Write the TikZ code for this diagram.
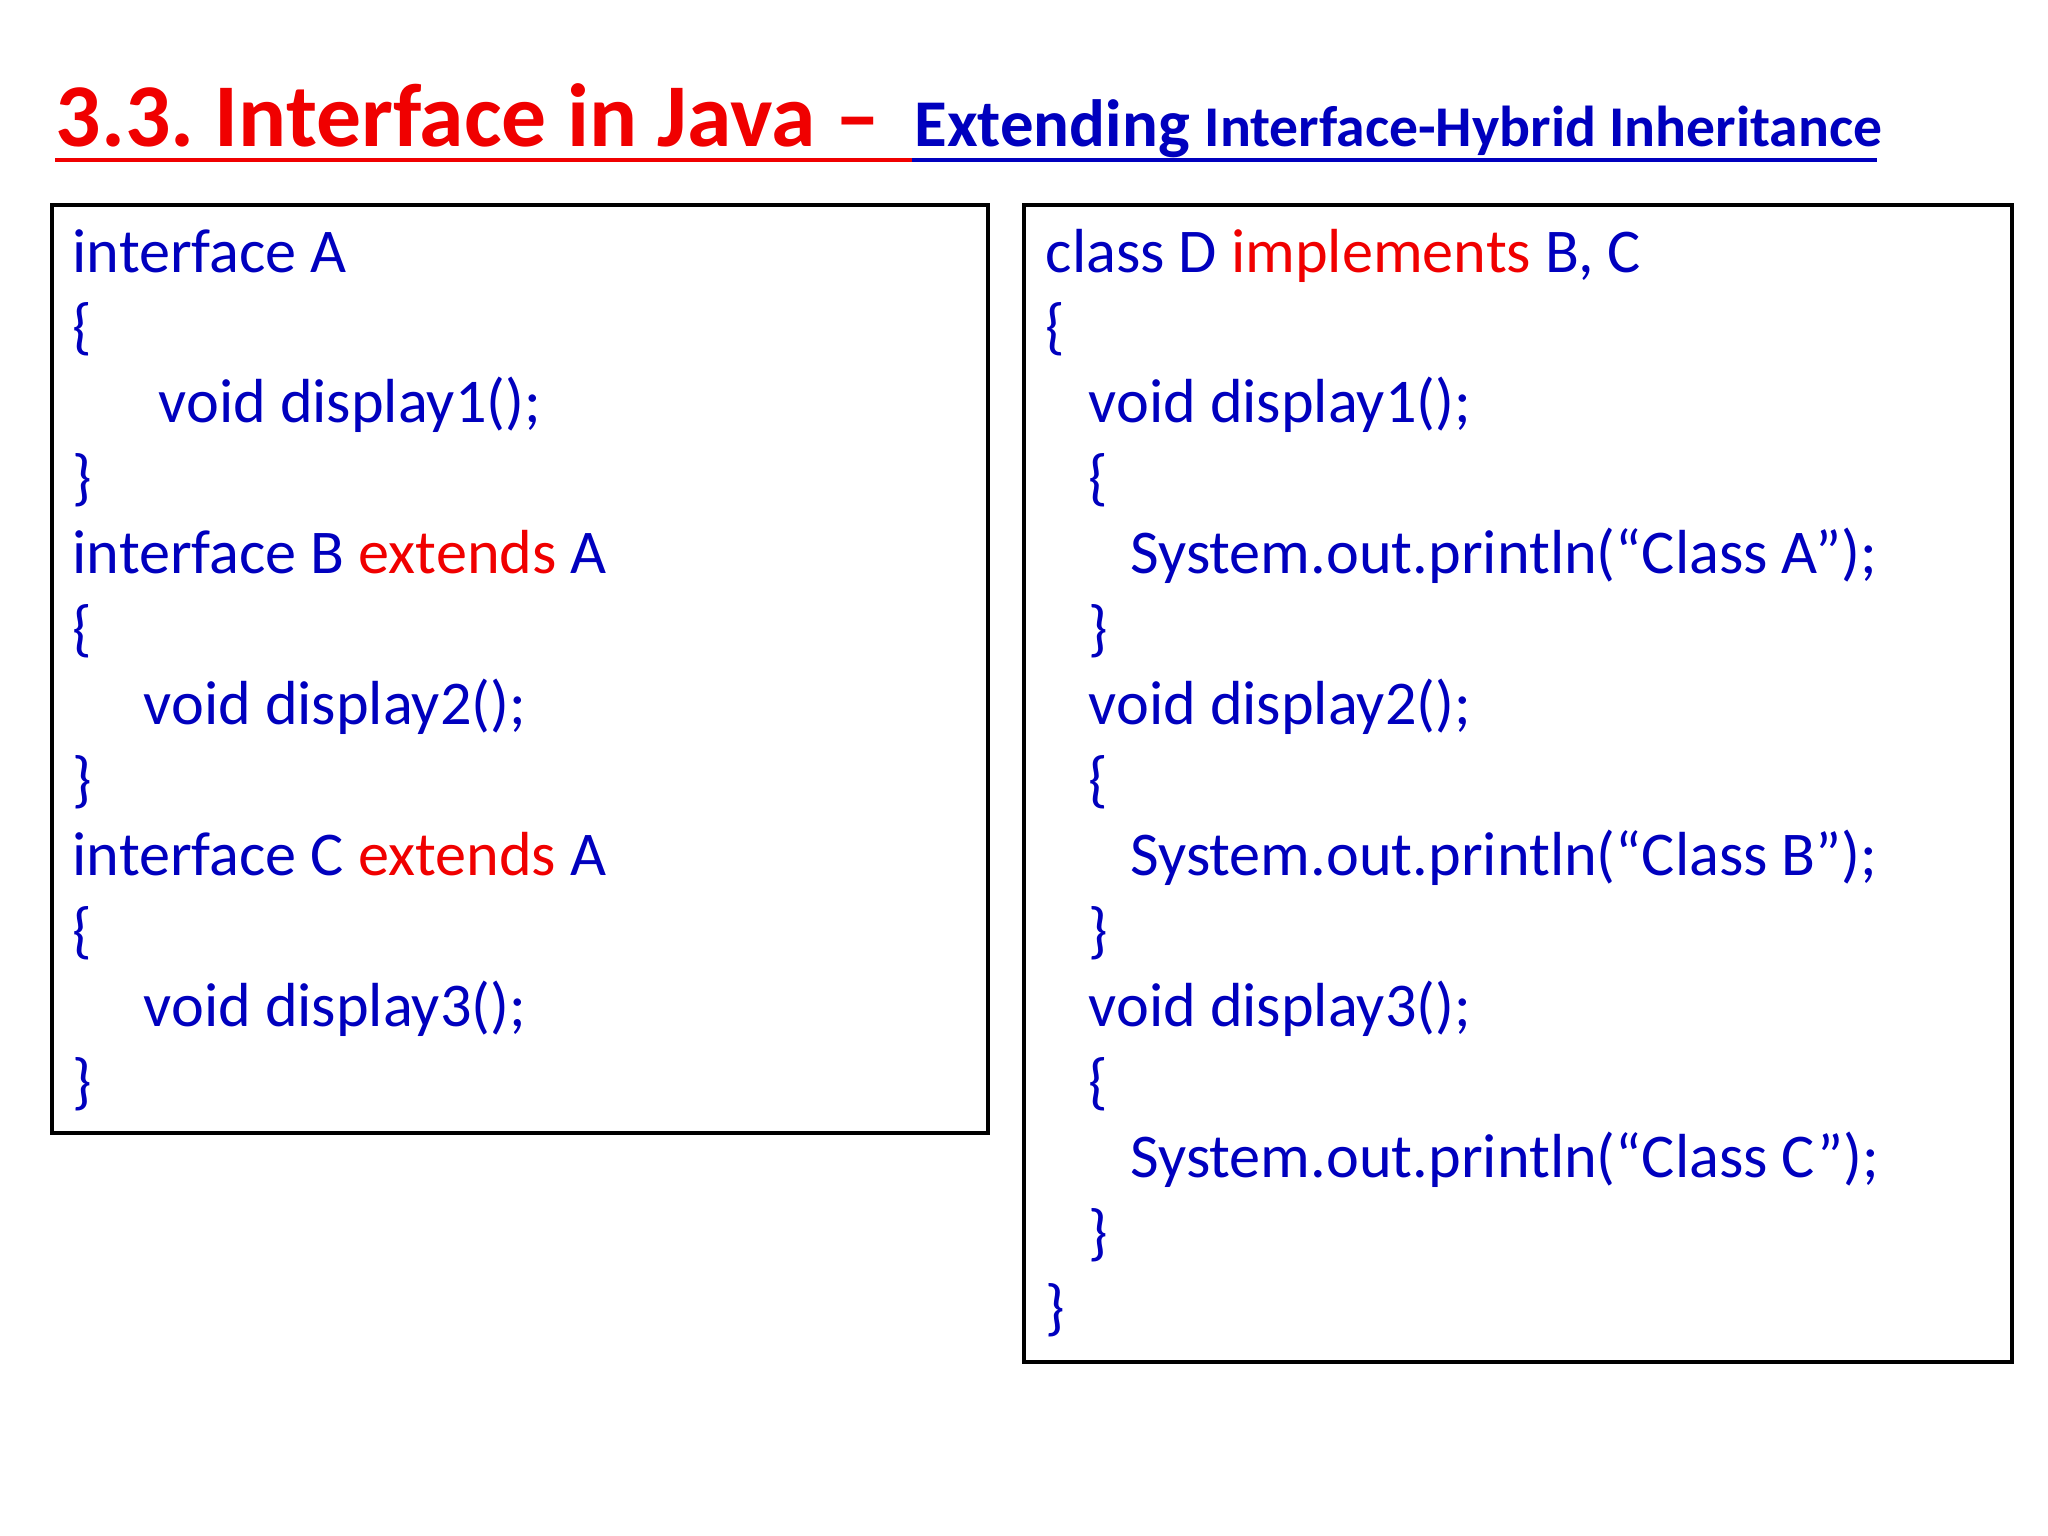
\documentclass[tikz,border=0pt]{standalone}
\usepackage{fontspec}
\setmainfont{Carlito}
\frenchspacing
\definecolor{codeblue}{RGB}{0,0,190}
\definecolor{keyred}{RGB}{240,0,0}
\tikzset{
  code/.style={anchor=base west,inner sep=0pt,text=codeblue,font=\fontsize{17.7}{20}\selectfont},
  codebox/.style={draw=black,line width=1.4pt}
}
\newcommand{\kw}[1]{\textcolor{keyred}{#1}}
\begin{document}
\begin{tikzpicture}[x=0.01cm,y=-0.01cm]
\useasboundingbox (0,0) rectangle (2048,1536);
% title
\node[anchor=base west,inner sep=0pt,text=keyred,font=\fontsize{25.5}{28}\selectfont\bfseries] (title) at (55,146) {3.3. Interface in Java --};
\node[anchor=base west,inner sep=0pt,text=codeblue,font=\bfseries] (subtitle) at (914,146)
  {\fontsize{19}{22}\selectfont Extending \fontsize{16.4}{19}\selectfont Interface-Hybrid Inheritance};
\draw[keyred,line width=1.3pt] (55,160) -- (912,160);
\draw[codeblue,line width=1.3pt] (912,160) -- (1877,160);
% boxes
\draw[codebox] (52,205) rectangle (988,1133);
\draw[codebox] (1024,205) rectangle (2012,1362);
% left column
\node[code] (la) at (72,272) {interface A};
\node[code] (lb) at (72,347) {\{};
\node[code] (lc) at (158,422) {void display1();};
\node[code] (ld) at (72,498) {\}};
\node[code] (le) at (72,573) {interface B \kw{extends} A};
\node[code] (lf) at (72,649) {\{};
\node[code] (lg) at (143,724) {void display2();};
\node[code] (lh) at (72,800) {\}};
\node[code] (li) at (72,875) {interface C \kw{extends} A};
\node[code] (lj) at (72,951) {\{};
\node[code] (lk) at (143,1026) {void display3();};
\node[code] (ll) at (72,1102) {\}};
% right column
\node[code] (ra) at (1045,272) {class D \kw{implements} B, C};
\node[code] (rb) at (1045,347) {\{};
\node[code] (rc) at (1088,422) {void display1();};
\node[code] (rd) at (1088,498) {\{};
\node[code] (re) at (1130,573) {System.out.println(“Class A”);};
\node[code] (rf) at (1088,649) {\}};
\node[code] (rg) at (1088,724) {void display2();};
\node[code] (rh) at (1088,800) {\{};
\node[code] (ri) at (1130,875) {System.out.println(“Class B”);};
\node[code] (rj) at (1088,951) {\}};
\node[code] (rk) at (1088,1026) {void display3();};
\node[code] (rl) at (1088,1102) {\{};
\node[code] (rm) at (1130,1177) {System.out.println(“Class C”);};
\node[code] (rn) at (1088,1253) {\}};
\node[code] (ro) at (1045,1328) {\}};
\end{tikzpicture}
\end{document}
